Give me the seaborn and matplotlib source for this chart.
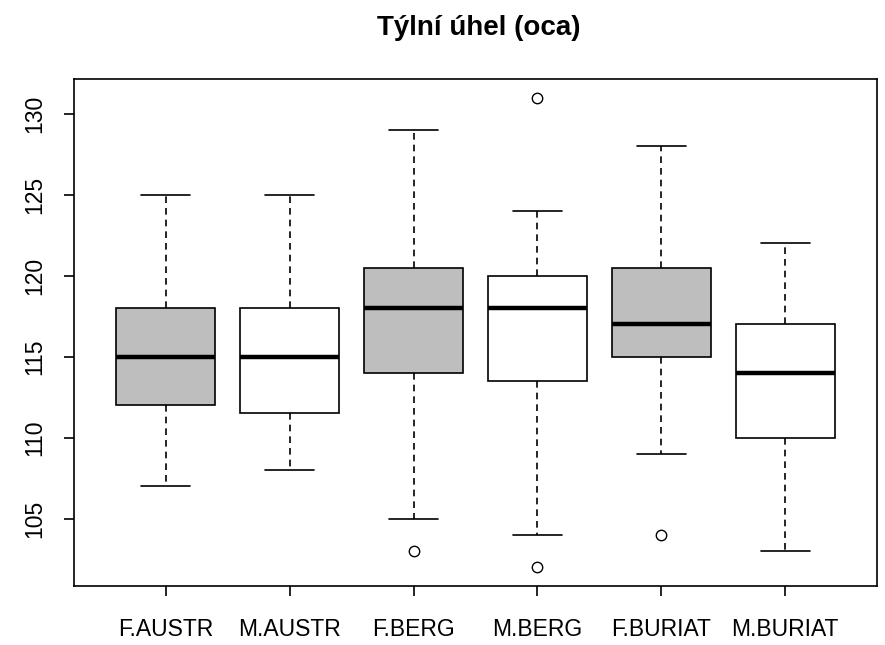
import numpy as np
import pandas as pd
import matplotlib
matplotlib.use("Agg")
import matplotlib.pyplot as plt
import seaborn as sns

groups = ["F.AUSTR", "M.AUSTR", "F.BERG", "M.BERG", "F.BURIAT", "M.BURIAT"]
whisker_low = [107, 108, 105, 104, 109, 103]
q1 = [112, 111.5, 114, 113.5, 115, 110]
median = [115, 115, 118, 118, 117, 114]
q3 = [118, 118, 120.5, 120, 120.5, 117]
whisker_high = [125, 125, 129, 124, 128, 122]
outlier_groups = ["F.BERG", "M.BERG", "M.BERG", "F.BURIAT"]
outlier_values = [103, 131, 102, 104]
fill_colors = ["#bebebe", "#ffffff", "#bebebe", "#ffffff", "#bebebe", "#ffffff"]

rows = []
for g, a, b, c, d, e in zip(groups, whisker_low, q1, median, q3, whisker_high):
    for v in (a, b, c, d, e):
        rows.append({"group": g, "value": v})
box_df = pd.DataFrame(rows)
out_df = pd.DataFrame({"group": outlier_groups, "value": outlier_values})

sns.set_style("white")
plt.rcParams["font.family"] = ["Liberation Sans", "DejaVu Sans"]
plt.rcParams["text.color"] = "black"

fig = plt.figure(figsize=(8.85, 6.45), dpi=100)
ax = fig.add_axes([74 / 885, 1 - 586 / 645, (877 - 74) / 885, (586 - 79) / 645])

sns.boxplot(data=box_df, x="group", y="value", order=groups, hue="group",
            palette=dict(zip(groups, fill_colors)), legend=False,
            whis=(0, 100), width=0.8, fliersize=0, linecolor="black", linewidth=1.2,
            whiskerprops=dict(linestyle=(0, (4, 3)), linewidth=1.2),
            capprops=dict(linewidth=1.2),
            medianprops=dict(linewidth=3.2, color="black"),
            boxprops=dict(edgecolor="black", linewidth=1.2),
            ax=ax)

sns.stripplot(data=out_df, x="group", y="value", order=groups, jitter=False,
              marker="o", size=7.5, color="white", edgecolor="black", linewidth=1.0,
              ax=ax, zorder=5)

ax.set_xlim(-0.74, 5.74)
ax.set_ylim(100.84, 132.16)
ax.set_yticks([105, 110, 115, 120, 125, 130])
ax.set_xlabel("")
ax.set_ylabel("")
for s in ax.spines.values():
    s.set_visible(True)
    s.set_color("black")
    s.set_linewidth(1.2)
ax.tick_params(axis="both", which="both", direction="out", length=7, width=1.2,
               color="black", labelsize=16.5, labelcolor="black", left=True, bottom=True)
ax.tick_params(axis="x", pad=16)
ax.tick_params(axis="y", pad=13)
for lab in ax.get_yticklabels():
    lab.set_rotation(90)
    lab.set_va("center")

fig.suptitle("Týlní úhel (oca)", x=(377 + 580) / 2 / 885, y=1 - 28 / 645, va="center",
             fontsize=20, fontweight="bold", color="black")

fig.savefig("out.png", dpi=100)
